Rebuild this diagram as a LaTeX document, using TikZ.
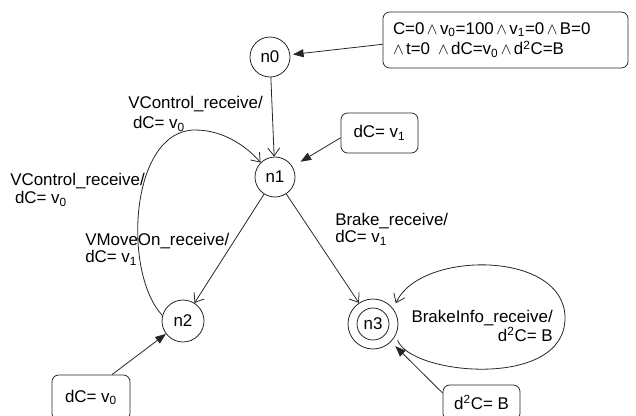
\documentclass[tikz,border=0pt]{standalone}
\usepackage{fontspec}
\setmainfont{Liberation Sans}
\usetikzlibrary{arrows.meta,calc}
\newcommand{\myand}{\kern1.8pt$\wedge$\kern1.8pt}
\begin{document}
\begin{tikzpicture}[x=0.75pt,y=-0.75pt,
  every node/.style={font=\fontsize{12.7}{15}\selectfont},
  line/.style={draw=black!85, line width=0.6pt},
  state/.style={line, circle, minimum size=30pt, inner sep=0pt},
  box/.style={line, rounded corners=5pt, inner sep=0pt},
  trans/.style={line, -{Straight Barb[length=6pt,width=9pt]}},
  initarrow/.style={line, -{Triangle[length=8pt,width=6pt]}},
  lbl/.style={inner sep=0pt, align=left, anchor=north west, font=\fontsize{12.7}{#1}\selectfont},
  lbl/.default=15pt]
\useasboundingbox (0,0) rectangle (636,415);
\clip (0,0) rectangle (636,415);

% states
\node[state] (n0) at (270,57) {n0};
\node[state] (n1) at (275,177) {n1};
\node[state, minimum size=31.5pt] (n2) at (183,321) {n2};
\node[state, minimum size=37.5pt] (n3) at (373,324) {n3};
\draw[line] (n3.center) circle[radius=16];

% boxes
\node[box, minimum width=183.75pt, minimum height=42pt, text width=168.75pt, align=left,
      font=\fontsize{12.7}{11.3}\selectfont] (init) at (505.5,40)
  {C=0\myand v\textsubscript{0}=100\myand v\textsubscript{1}=0\myand B=0\\
   \myand t=0 \myand dC=v\textsubscript{0}\myand d\textsuperscript{2}C=B};
\node[box, minimum width=57.75pt, minimum height=30pt] (dv1) at (379.5,133) {dC= v\textsubscript{1}};
\node[box, minimum width=58.5pt, minimum height=33.75pt] (dv0) at (91,397.5) {dC= v\textsubscript{0}};
\node[box, minimum width=57.75pt, minimum height=26.25pt] (ddb) at (481.5,402.5) {d\textsuperscript{2}C= B};

% initial / invariant arrows
\draw[initarrow, shorten >=2pt] (init.182) -- (n0);
\draw[initarrow, shorten >=7pt] (dv1.187) -- (n1);
\draw[initarrow] ($(dv0.north)+(21,0)$) -- (n2);
\draw[initarrow, shorten >=4.5pt] ($(ddb.west)+(0,-9.5)$) -- (n3);

% transitions
\draw[trans] (n0) -- (n1);
\draw[trans] (n1) -- (n2);
\draw[trans] (n1) -- (n3);
\draw[trans] (n2.165) .. controls (122,272) and (130,130) .. (195,130)
                      .. controls (225,130) and (248,148) .. (n1.135);
\draw[trans, shorten <=4pt, shorten >=4.5pt] (n3.-26) .. controls (410,375) and (565,390) .. (565,318)
                      .. controls (565,250) and (420,250) .. (n3.37);

% labels
\node[lbl=15pt] (lA) at (128,96) {VControl\_receive/\\\hspace*{.28em}dC= v\textsubscript{0}};
\node[lbl=13.5pt] (lB) at (10,173) {VControl\_receive/\\\hspace*{.28em}dC= v\textsubscript{0}};
\node[lbl=12.75pt] (lC) at (85,233) {VMoveOn\_receive/\\dC= v\textsubscript{1}};
\node[lbl=11.5pt] (lD) at (335,213) {Brake\_receive/\\dC= v\textsubscript{1}};
\node[lbl=12pt, anchor=north east, align=right] (lE) at (553,310) {BrakeInfo\_receive/\\d\textsuperscript{2}C= B};
\end{tikzpicture}
\end{document}
